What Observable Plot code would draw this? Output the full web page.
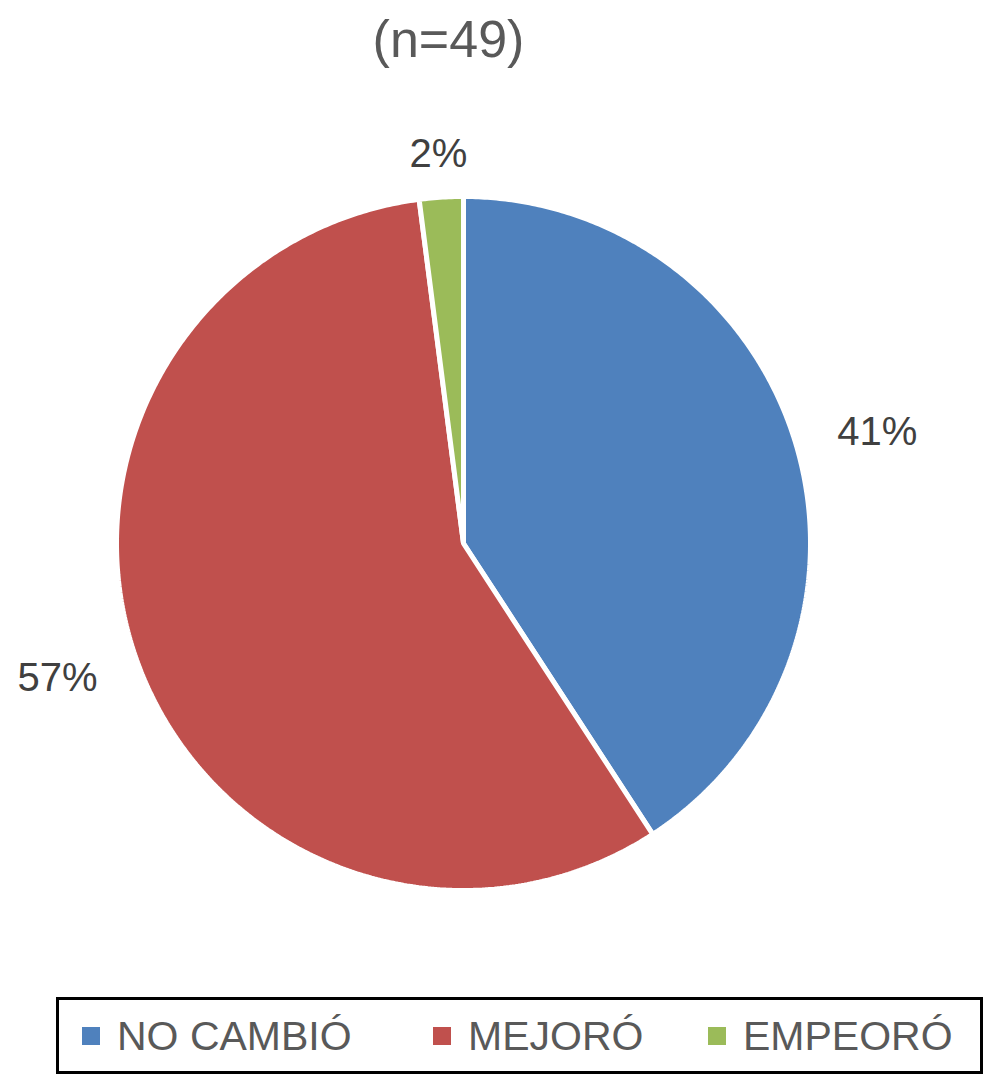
<!DOCTYPE html>
<html>
<head>
<meta charset="utf-8">
<script src="https://cdn.jsdelivr.net/npm/d3@7"></script>
<script src="https://cdn.jsdelivr.net/npm/@observablehq/plot@0.6"></script>
<style>
  html, body { margin: 0; padding: 0; background: #fff; }
  body { position: relative; width: 986px; height: 1076px; overflow: hidden; font-family: "Liberation Sans", Arial, Helvetica, sans-serif; }
  #title { width: 897px; height: 76px; line-height: 78px; text-align: center; font-size: 52px; color: #595959; }
  #chart svg { display: block; }
  #legend { position: absolute; left: 56px; top: 997px; width: 927px; height: 77px; border: 3px solid #000; box-sizing: border-box; }
  .item { position: absolute; top: 0; height: 71px; }
  .sw { position: absolute; top: 27px; width: 18px; height: 18px; }
  .lab { position: absolute; top: 0; line-height: 73px; font-size: 41px; color: #595959; white-space: nowrap; }
</style>
</head>
<body>
<div id="title"></div>
<div id="chart"></div>
<div id="legend"></div>
<script>
const titleText = "(n=49)";
const categories = ["NO CAMBIÓ", "MEJORÓ", "EMPEORÓ"];
const counts = [20, 28, 1];
const pctLabels = ["41%", "57%", "2%"];
const colors = ["#4F81BD", "#C0504D", "#9BBB59"];

document.getElementById("title").textContent = titleText;

const arcs = d3.pie().sort(null)(counts);
const R = 347 / 345;
const points = [];
arcs.forEach((a, i) => {
  points.push({category: categories[i], x: 0, y: 0});
  const n = Math.max(2, Math.ceil((a.endAngle - a.startAngle) / (Math.PI / 360)));
  for (let k = 0; k <= n; k++) {
    const t = a.startAngle + (a.endAngle - a.startAngle) * k / n;
    points.push({category: categories[i], x: R * Math.sin(t), y: R * Math.cos(t)});
  }
});

const labelR = 1.13;
const labelData = arcs.map((a, i) => {
  const m = (a.startAngle + a.endAngle) / 2;
  const s = Math.sin(m);
  return {text: pctLabels[i], x: labelR * s, y: labelR * Math.cos(m),
          anchor: s > 0.3 ? "start" : s < -0.3 ? "end" : "middle"};
});

const textMarks = ["start", "middle", "end"].map(anc =>
  Plot.text(labelData.filter(d => d.anchor === anc), {
    x: "x", y: "y", text: "text", textAnchor: anc,
    fontSize: 40, fill: "#404040", lineAnchor: "middle"
  })
);

const chart = Plot.plot({
  width: 986,
  height: 910,
  margin: 0,
  style: {fontFamily: '"Liberation Sans", Arial, Helvetica, sans-serif', background: "#fff"},
  x: {domain: [-1, 1], range: [118, 808], axis: null},
  y: {domain: [-1, 1], range: [812, 122], axis: null},
  color: {domain: categories, range: colors},
  marks: [
    Plot.line(points, {x: "x", y: "y", z: "category", fill: "category", stroke: "white", strokeWidth: 5, curve: "linear-closed", strokeLinejoin: "miter"}),
    ...textMarks
  ]
});
document.getElementById("chart").appendChild(chart);

const legendLefts = [23, 374, 649];
const legend = document.getElementById("legend");
categories.forEach((c, i) => {
  const it = document.createElement("div");
  it.className = "item";
  it.style.left = legendLefts[i] + "px";
  const sw = document.createElement("div");
  sw.className = "sw";
  sw.style.left = "0px";
  sw.style.background = colors[i];
  const lab = document.createElement("div");
  lab.className = "lab";
  lab.style.left = "35px";
  lab.textContent = c;
  it.appendChild(sw);
  it.appendChild(lab);
  legend.appendChild(it);
});
</script>
</body>
</html>
